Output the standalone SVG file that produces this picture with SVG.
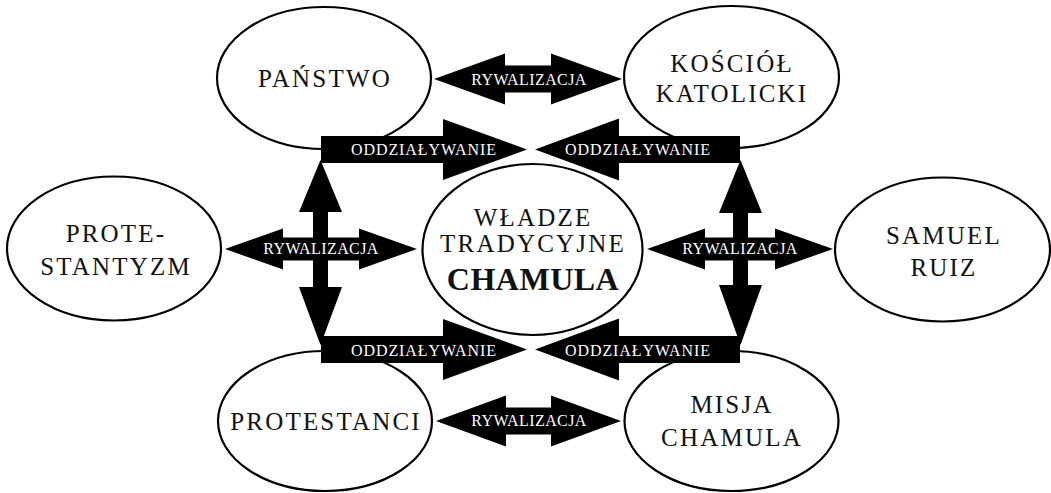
<svg xmlns="http://www.w3.org/2000/svg" width="1051" height="493" viewBox="0 0 1051 493">
<style>
.node ellipse{fill:#fff;stroke:#000;stroke-width:2.2}
.lbl{font-family:"Liberation Serif","Times New Roman",serif;font-size:25px;letter-spacing:2.2px;fill:#111;text-anchor:middle}
.big{font-family:"Liberation Serif","Times New Roman",serif;font-size:32px;font-weight:bold;letter-spacing:0.5px;fill:#111;text-anchor:middle}
.arr{fill:#000}
.al{font-family:"Liberation Serif","Times New Roman",serif;font-size:16px;letter-spacing:0.4px;fill:#fff;text-anchor:middle}
.ao{font-family:"Liberation Serif","Times New Roman",serif;font-size:16px;letter-spacing:0.9px;fill:#fff;text-anchor:middle}
</style>
<rect width="1051" height="493" fill="#fff"/>
<g id="panstwo" class="node"><ellipse cx="324" cy="78" rx="107" ry="71"/><text class="lbl" x="325" y="87">PAŃSTWO</text></g>
<g id="kosciol" class="node"><ellipse cx="731.5" cy="77" rx="107.5" ry="71"/><text class="lbl" x="732" y="72">KOŚCIÓŁ</text><text class="lbl" x="732" y="102">KATOLICKI</text></g>
<g id="protestantyzm" class="node"><ellipse cx="114" cy="248.5" rx="107" ry="72"/><text class="lbl" x="116" y="242">PROTE-</text><text class="lbl" x="116" y="275">STANTYZM</text></g>
<g id="wladze" class="node"><ellipse cx="532.5" cy="249.5" rx="110" ry="85.5"/><text class="lbl" x="533" y="226">WŁADZE</text><text class="lbl" x="533" y="252">TRADYCYJNE</text><text class="big" x="533" y="290">CHAMULA</text></g>
<g id="samuel" class="node"><ellipse cx="942.5" cy="249.5" rx="107.5" ry="72"/><text class="lbl" x="944" y="244">SAMUEL</text><text class="lbl" x="944" y="276">RUIZ</text></g>
<g id="protestanci" class="node"><ellipse cx="325" cy="421" rx="107" ry="70"/><text class="lbl" x="326" y="430">PROTESTANCI</text></g>
<g id="misja" class="node"><ellipse cx="731.5" cy="421" rx="107" ry="70"/><text class="lbl" x="732" y="413">MISJA</text><text class="lbl" x="732" y="446">CHAMULA</text></g>
<g id="connectors">
<polygon class="arr" points="320.5,160 342,212 328,212 328,287 342,287 320.5,345 299,287 313,287 313,212 299,212"/>
<polygon class="arr" points="740.5,160 762,213 748,213 748,285 762,285 740.5,345 719,285 733,285 733,213 719,213"/>
<polygon class="arr" points="434,79 505,53.5 505,65.5 551,65.5 551,53.5 622,79 551,104.5 551,92.5 505,92.5 505,104.5"/>
<polygon class="arr" points="225,249 283,228.5 283,237.5 359,237.5 359,228.5 417,249 359,269.5 359,260.5 283,260.5 283,269.5"/>
<polygon class="arr" points="647,249 705,228.5 705,237.5 775,237.5 775,228.5 833,249 775,269.5 775,260.5 705,260.5 705,269.5"/>
<polygon class="arr" points="436,421 506,395.5 506,407.5 551,407.5 551,395.5 621,421 551,446.5 551,434.5 506,434.5 506,446.5"/>
<polygon class="arr" points="321,136 443,136 443,119 527,149.5 443,180 443,163 321,163"/>
<polygon class="arr" points="740,136 619,136 619,118.5 535,149.5 619,180.5 619,163 740,163"/>
<polygon class="arr" points="321,336 443,336 443,319 527,349.5 443,380 443,363 321,363"/>
<polygon class="arr" points="740,336 619,336 619,318.5 535,349.5 619,380.5 619,363 740,363"/>
<text class="al" x="529" y="85">RYWALIZACJA</text>
<text class="al" x="321" y="254">RYWALIZACJA</text>
<text class="al" x="740" y="254">RYWALIZACJA</text>
<text class="al" x="529" y="426">RYWALIZACJA</text>
<text class="ao" x="424" y="155">ODDZIAŁYWANIE</text>
<text class="ao" x="638" y="155">ODDZIAŁYWANIE</text>
<text class="ao" x="424" y="356">ODDZIAŁYWANIE</text>
<text class="ao" x="638" y="356">ODDZIAŁYWANIE</text>
</g>
</svg>
